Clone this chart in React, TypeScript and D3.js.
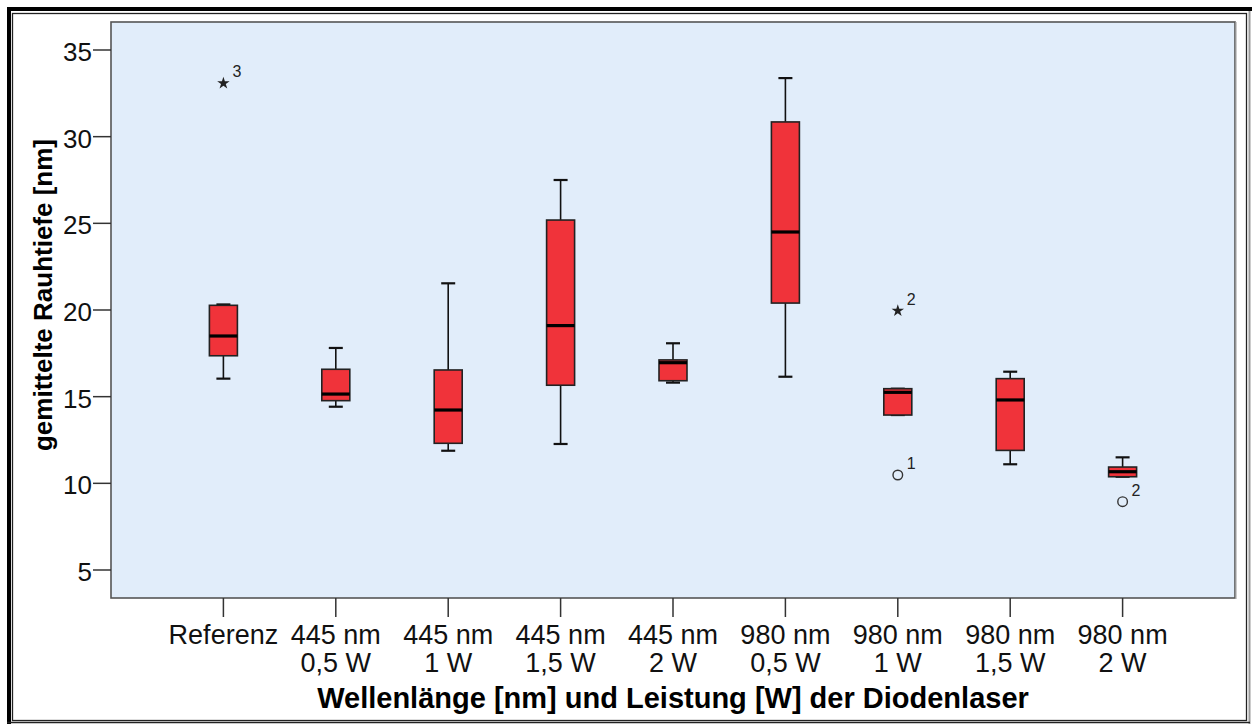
import React from "react";
import * as d3 from "d3";

const categories: string[][] = [
  ["Referenz"],
  ["445 nm", "0,5 W"],
  ["445 nm", "1 W"],
  ["445 nm", "1,5 W"],
  ["445 nm", "2 W"],
  ["980 nm", "0,5 W"],
  ["980 nm", "1 W"],
  ["980 nm", "1,5 W"],
  ["980 nm", "2 W"],
];

const whiskerLow = [16.04, 14.42, 11.88, 12.27, 15.81, 16.15, 13.94, 11.1, 10.38];
const q1 = [17.36, 14.77, 12.31, 15.66, 15.92, 20.4, 13.94, 11.9, 10.38];
const median = [18.5, 15.15, 14.23, 19.1, 16.96, 24.5, 15.25, 14.81, 10.67];
const q3 = [20.27, 16.58, 16.54, 25.19, 17.12, 30.85, 15.46, 16.04, 10.94];
const whiskerHigh = [20.32, 17.81, 21.54, 27.5, 18.08, 33.38, 15.46, 16.44, 11.5];

// outliers: category index, value, kind (star = extreme, circle = outlier), case label
const outlierCat = [0, 6, 6, 8];
const outlierVal = [33.08, 19.96, 10.48, 8.94];
const outlierKind = ["star", "star", "circle", "circle"];
const outlierLabel = ["3", "2", "1", "2"];

const yTicks = [5, 10, 15, 20, 25, 30, 35];

const W = 1252;
const H = 724;
const plot = { left: 111, top: 22, right: 1235, bottom: 598 };

export default function App() {
  const keys = categories.map((c) => c.join(" "));
  const x = d3
    .scalePoint<string>()
    .domain(keys)
    .range([plot.left, plot.right])
    .padding(1);
  const y = d3
    .scaleLinear()
    .domain([5 - 28 / 17.333, 35 + 28 / 17.333])
    .range([plot.bottom, plot.top]);

  const boxW = 28;
  const capW = 14;
  const font = "Arial, 'Liberation Sans', Helvetica, sans-serif";
  const star = d3.symbol().type(d3.symbolStar).size(48)();

  return (
    <svg
      width={W}
      height={H}
      style={{ position: "absolute", left: 0, top: 0, display: "block" }}
      fontFamily={font}
    >
      <rect x={0} y={0} width={W} height={H} fill="#fff" />
      {/* outer frame */}
      <rect x={7} y={7} width={1245} height={4} fill="#000" />
      <rect x={7} y={7} width={4} height={717} fill="#000" />
      <rect x={12.5} y={13.5} width={1234} height={707} fill="none" stroke="#222" strokeWidth={1.3} />
      <line x1={1249.5} x2={1249.5} y1={11} y2={724} stroke="#999" strokeWidth={2} />
      <line x1={7} x2={1250} y1={722.5} y2={722.5} stroke="#222" strokeWidth={1.5} />

      {/* plot area */}
      <rect
        x={plot.left}
        y={plot.top}
        width={plot.right - plot.left}
        height={plot.bottom - plot.top}
        fill="#E1EDFA"
        stroke="#555"
        strokeWidth={1.6}
      />
      <line x1={plot.right + 1} x2={plot.right + 1} y1={plot.top} y2={plot.bottom + 1} stroke="#aaa" strokeWidth={1.2} />

      {/* y axis ticks */}
      {yTicks.map((t) => (
        <g key={t}>
          <line x1={plot.left - 18} x2={plot.left} y1={y(t)} y2={y(t)} stroke="#333" strokeWidth={1.5} />
          <text
            x={plot.left - 19}
            y={y(t) + 2}
            textAnchor="end"
            dominantBaseline="central"
            fontSize={26}
            fill="#111"
          >
            {t}
          </text>
        </g>
      ))}

      {/* x axis ticks and labels */}
      {categories.map((c, i) => {
        const cx = x(keys[i])!;
        return (
          <g key={i}>
            <line x1={cx} x2={cx} y1={plot.bottom} y2={plot.bottom + 19} stroke="#333" strokeWidth={1.5} />
            {c.map((line, j) => (
              <text key={j} x={cx} y={644 + j * 28} textAnchor="middle" fontSize={27} fill="#111">
                {line}
              </text>
            ))}
          </g>
        );
      })}

      {/* boxes */}
      {categories.map((_, i) => {
        const cx = x(keys[i])!;
        return (
          <g key={i}>
            <line x1={cx} x2={cx} y1={y(whiskerHigh[i])} y2={y(q3[i])} stroke="#111" strokeWidth={1.6} />
            <line x1={cx} x2={cx} y1={y(q1[i])} y2={y(whiskerLow[i])} stroke="#111" strokeWidth={1.6} />
            <line
              x1={cx - capW / 2}
              x2={cx + capW / 2}
              y1={y(whiskerHigh[i])}
              y2={y(whiskerHigh[i])}
              stroke="#111"
              strokeWidth={2.2}
            />
            <line
              x1={cx - capW / 2}
              x2={cx + capW / 2}
              y1={y(whiskerLow[i])}
              y2={y(whiskerLow[i])}
              stroke="#111"
              strokeWidth={2.2}
            />
            <rect
              x={cx - boxW / 2}
              y={y(q3[i])}
              width={boxW}
              height={y(q1[i]) - y(q3[i])}
              fill="#F0333A"
              stroke="#222"
              strokeWidth={1.6}
            />
            <line
              x1={cx - boxW / 2}
              x2={cx + boxW / 2}
              y1={y(median[i])}
              y2={y(median[i])}
              stroke="#000"
              strokeWidth={3.2}
            />
          </g>
        );
      })}

      {/* outliers */}
      {outlierVal.map((v, k) => {
        const cx = x(keys[outlierCat[k]])!;
        const cy = y(v);
        return (
          <g key={k}>
            {outlierKind[k] === "star" ? (
              <path d={star!} transform={`translate(${cx},${cy})`} fill="#222" />
            ) : (
              <circle cx={cx} cy={cy} r={4.8} fill="none" stroke="#333" strokeWidth={1.4} />
            )}
            <text x={cx + 9} y={cy - 6} fontSize={16} fill="#222">
              {outlierLabel[k]}
            </text>
          </g>
        );
      })}

      {/* axis titles */}
      <text x={673} y={708} textAnchor="middle" fontSize={29} fontWeight="bold" fill="#000">
        Wellenlänge [nm] und Leistung [W] der Diodenlaser
      </text>
      <text
        transform={`translate(52,295) rotate(-90)`}
        textAnchor="middle"
        fontSize={26}
        fontWeight="bold"
        fill="#000"
      >
        gemittelte Rauhtiefe [nm]
      </text>
    </svg>
  );
}
